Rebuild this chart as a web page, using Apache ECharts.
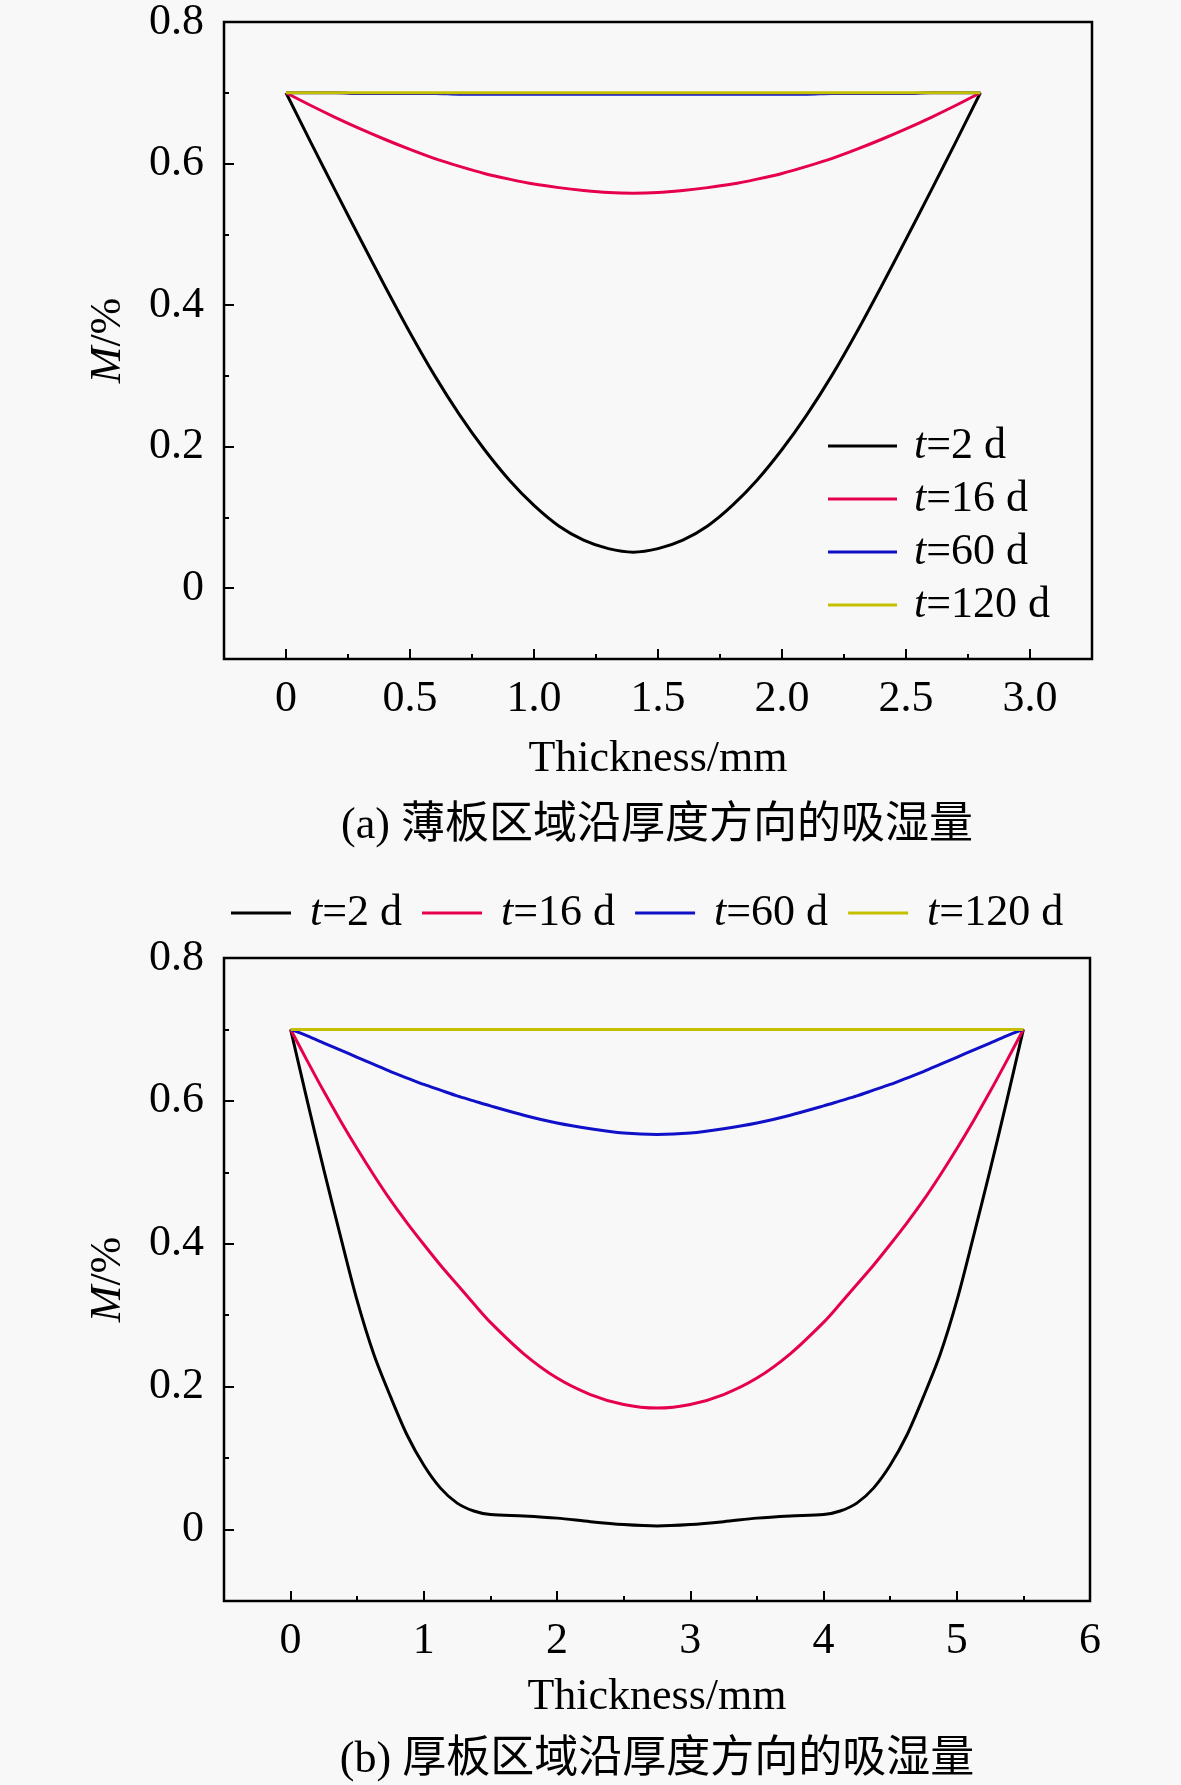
<!DOCTYPE html>
<html lang="zh">
<head>
<meta charset="utf-8">
<script src="https://cdn.jsdelivr.net/npm/echarts@6/dist/echarts.min.js"></script>
<style>
  * { margin: 0; padding: 0; }
  body { background: #f8f8f8; }
</style>
</head>
<body>
<div id="main" style="width:1181px;height:1785px;"></div>
<script>
// ---- data: thin plate (a) ----
var thinX = [0, 0.1, 0.2, 0.3, 0.4, 0.5, 0.6, 0.7, 0.8, 0.9, 1.0, 1.1, 1.2, 1.3, 1.4,
             1.5, 1.6, 1.7, 1.8, 1.9, 2.0, 2.1, 2.2, 2.3, 2.4, 2.5, 2.6, 2.7, 2.8];
var thin2d = [0.700, 0.630, 0.561, 0.493, 0.426, 0.361, 0.300, 0.245, 0.196, 0.153, 0.117, 0.088, 0.068, 0.056, 0.051,
              0.056, 0.068, 0.088, 0.117, 0.153, 0.196, 0.245, 0.300, 0.361, 0.426, 0.493, 0.561, 0.630, 0.700];
var thin16d = [0.700, 0.682, 0.665, 0.649, 0.634, 0.620, 0.607, 0.596, 0.586, 0.578, 0.571, 0.566, 0.562, 0.559, 0.558,
               0.559, 0.562, 0.566, 0.571, 0.578, 0.586, 0.596, 0.607, 0.620, 0.634, 0.649, 0.665, 0.682, 0.700];
var thin60d = [0.700, 0.700, 0.700, 0.699, 0.699, 0.699, 0.699, 0.698, 0.698, 0.698, 0.698, 0.698, 0.698, 0.698, 0.698,
               0.698, 0.698, 0.698, 0.698, 0.698, 0.698, 0.698, 0.699, 0.699, 0.699, 0.699, 0.700, 0.700, 0.700];
var thin120d = [0.700, 0.700, 0.700, 0.700, 0.700, 0.700, 0.700, 0.700, 0.700, 0.700, 0.700, 0.700, 0.700, 0.700, 0.700,
                0.700, 0.700, 0.700, 0.700, 0.700, 0.700, 0.700, 0.700, 0.700, 0.700, 0.700, 0.700, 0.700, 0.700];

// ---- data: thick plate (b) ----
var thickX = [0, 0.125, 0.25, 0.375, 0.5, 0.625, 0.75, 0.875, 1.0, 1.125, 1.25, 1.375, 1.5, 1.75, 2.0, 2.25, 2.5, 2.75,
              3.0, 3.25, 3.5, 3.75, 4.0, 4.125, 4.25, 4.375, 4.5, 4.625, 4.75, 4.875, 5.0, 5.125, 5.25, 5.375, 5.5];
var thick2d = [0.700, 0.600, 0.503, 0.410, 0.320, 0.245, 0.186, 0.132, 0.090, 0.058, 0.037, 0.026, 0.021, 0.019, 0.016, 0.011, 0.007, 0.005,
               0.007, 0.011, 0.016, 0.019, 0.021, 0.026, 0.037, 0.058, 0.090, 0.132, 0.186, 0.245, 0.320, 0.410, 0.503, 0.600, 0.700];
var thick16d = [0.700, 0.656, 0.613, 0.572, 0.533, 0.496, 0.461, 0.429, 0.399, 0.370, 0.343, 0.316, 0.290, 0.246, 0.212, 0.189, 0.175, 0.170,
                0.175, 0.189, 0.212, 0.246, 0.290, 0.316, 0.343, 0.370, 0.399, 0.429, 0.461, 0.496, 0.533, 0.572, 0.613, 0.656, 0.700];
var thick60d = [0.700, 0.691, 0.681, 0.671, 0.661, 0.651, 0.641, 0.632, 0.623, 0.615, 0.607, 0.600, 0.593, 0.580, 0.569, 0.561, 0.555, 0.553,
                0.555, 0.561, 0.569, 0.580, 0.593, 0.600, 0.607, 0.615, 0.623, 0.632, 0.641, 0.651, 0.661, 0.671, 0.681, 0.691, 0.700];
var thick120d = [0.700, 0.700, 0.700, 0.700, 0.700, 0.700, 0.700, 0.700, 0.700, 0.700, 0.700, 0.700, 0.700, 0.700, 0.700, 0.700, 0.700, 0.700,
                 0.700, 0.700, 0.700, 0.700, 0.700, 0.700, 0.700, 0.700, 0.700, 0.700, 0.700, 0.700, 0.700, 0.700, 0.700, 0.700, 0.700];

var seriesNames = ['t=2 d', 't=16 d', 't=60 d', 't=120 d'];
var seriesColors = ['#000000', '#e6004c', '#1010c8', '#c4c000'];

// tick label values
var thinXTicks = [0, 0.5, 1.0, 1.5, 2.0, 2.5, 3.0];
var thickXTicks = [0, 1, 2, 3, 4, 5, 6];
var yTicks = [0, 0.2, 0.4, 0.6, 0.8];

var FONT = 'Liberation Serif';
var FS = 44;

function pairs(xs, ys) {
    return xs.map(function (x, i) { return [x, ys[i]]; });
}

function fmt(v) {
    return v === 0 ? '0' : v.toFixed(1);
}

var tickLine = { color: '#000', width: 2 };

// minor-tick axis (carries the data) + overlay axis with labelled major ticks
function xAxes(grid, min, max, minorStep, ticks, labelFn, nameGap) {
    return [{
        type: 'value', gridIndex: grid, min: min, max: max, interval: minorStep,
        axisLine: { show: false, onZero: false },
        axisTick: { inside: true, length: 5, lineStyle: tickLine },
        axisLabel: { show: false },
        splitLine: { show: false }
    }, {
        type: 'value', gridIndex: grid, min: min, max: max, position: 'bottom',
        axisLine: { show: false, onZero: false },
        axisTick: { inside: true, length: 10, customValues: ticks, lineStyle: tickLine },
        axisLabel: { customValues: ticks, formatter: labelFn, margin: 18,
                     fontFamily: FONT, fontSize: FS, color: '#000' },
        splitLine: { show: false },
        name: 'Thickness/mm', nameLocation: 'middle', nameGap: nameGap,
        nameTextStyle: { fontFamily: FONT, fontSize: FS, color: '#000' }
    }];
}

function yAxes(grid) {
    return [{
        type: 'value', gridIndex: grid, min: -0.1, max: 0.8, interval: 0.1,
        axisLine: { show: false, onZero: false },
        axisTick: { inside: true, length: 5, lineStyle: tickLine },
        axisLabel: { show: false },
        splitLine: { show: false }
    }, {
        type: 'value', gridIndex: grid, min: -0.1, max: 0.8, position: 'left',
        axisLine: { show: false, onZero: false },
        axisTick: { inside: true, length: 10, customValues: yTicks, lineStyle: tickLine },
        axisLabel: { customValues: yTicks, formatter: fmt, margin: 20,
                     fontFamily: FONT, fontSize: FS, color: '#000' },
        splitLine: { show: false },
        name: '{i|M}/%', nameLocation: 'middle', nameRotate: 90, nameGap: 94,
        nameTextStyle: {
            fontFamily: FONT, fontSize: FS, color: '#000',
            rich: { i: { fontFamily: FONT, fontSize: FS, fontStyle: 'italic', color: '#000' } }
        }
    }];
}

function lineSeries(name, color, data, xi, yi) {
    return {
        name: name, type: 'line', xAxisIndex: xi, yAxisIndex: yi,
        data: data, symbol: 'none', smooth: 0.3,
        lineStyle: { color: color, width: 3 },
        itemStyle: { color: color }
    };
}

var legendRich = {
    i: { fontFamily: FONT, fontSize: FS, fontStyle: 'italic', color: '#000' },
    n: { fontFamily: FONT, fontSize: FS, color: '#000' }
};
function legendFmt(name) {
    return '{i|t}{n|' + name.slice(1) + '}';
}

var chart = echarts.init(document.getElementById('main'));

var option = {
    backgroundColor: '#f8f8f8',
    animation: false,
    grid: [
        { left: 224, top: 21, width: 868, height: 638, show: true,
          borderColor: '#000', borderWidth: 2.5, backgroundColor: 'transparent' },
        { left: 224, top: 958, width: 866, height: 643, show: true,
          borderColor: '#000', borderWidth: 2.5, backgroundColor: 'transparent' }
    ],
    xAxis: xAxes(0, -0.25, 3.25, 0.25, thinXTicks, fmt, 78)
        .concat(xAxes(1, -0.5, 6, 0.5, thickXTicks, function (v) { return String(v); }, 74)),
    yAxis: yAxes(0).concat(yAxes(1)),
    legend: [{
        data: seriesNames, orient: 'vertical', left: 823, top: 419,
        icon: 'rect', itemWidth: 69, itemHeight: 3, itemGap: 9,
        formatter: legendFmt,
        textStyle: { fontFamily: FONT, fontSize: FS, color: '#000', lineHeight: 44,
                     padding: [0, 0, 0, 12], rich: legendRich }
    }, {
        data: seriesNames, orient: 'horizontal', left: 226, top: 886,
        icon: 'rect', itemWidth: 60, itemHeight: 3, itemGap: 20,
        formatter: legendFmt,
        textStyle: { fontFamily: FONT, fontSize: FS, color: '#000', lineHeight: 44,
                     padding: [0, 0, 0, 14], rich: legendRich }
    }],
    graphic: [{
        type: 'text', x: 657, y: 826,
        style: { text: '(a) 薄板区域沿厚度方向的吸湿量', fill: '#000',
                 font: '44px "Liberation Serif", "Noto Sans CJK SC"',
                 textAlign: 'center', textVerticalAlign: 'middle', align: 'center', verticalAlign: 'middle' }
    }, {
        type: 'text', x: 657, y: 1760,
        style: { text: '(b) 厚板区域沿厚度方向的吸湿量', fill: '#000',
                 font: '44px "Liberation Serif", "Noto Sans CJK SC"',
                 textAlign: 'center', textVerticalAlign: 'middle', align: 'center', verticalAlign: 'middle' }
    }],
    series: [
        lineSeries(seriesNames[0], seriesColors[0], pairs(thinX, thin2d), 0, 0),
        lineSeries(seriesNames[1], seriesColors[1], pairs(thinX, thin16d), 0, 0),
        lineSeries(seriesNames[2], seriesColors[2], pairs(thinX, thin60d), 0, 0),
        lineSeries(seriesNames[3], seriesColors[3], pairs(thinX, thin120d), 0, 0),
        lineSeries(seriesNames[0], seriesColors[0], pairs(thickX, thick2d), 2, 2),
        lineSeries(seriesNames[1], seriesColors[1], pairs(thickX, thick16d), 2, 2),
        lineSeries(seriesNames[2], seriesColors[2], pairs(thickX, thick60d), 2, 2),
        lineSeries(seriesNames[3], seriesColors[3], pairs(thickX, thick120d), 2, 2)
    ]
};

chart.setOption(option);
</script>
</body>
</html>
